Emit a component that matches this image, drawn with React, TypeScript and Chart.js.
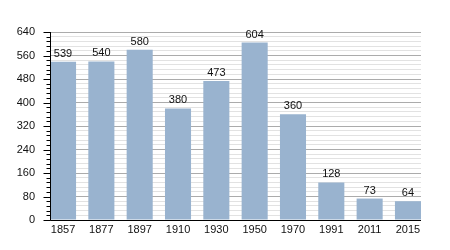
import React, { useEffect, useRef } from "react";
import { Chart, registerables } from "chart.js";

Chart.register(...registerables);

const YEARS = ["1857", "1877", "1897", "1910", "1930", "1950", "1970", "1991", "2011", "2015"];
const POPULATION = [539, 540, 580, 380, 473, 604, 360, 128, 73, 64];
const Y_MIN = 0;
const Y_MAX = 640;
const Y_MAJOR_STEP = 80;
const Y_MINOR_STEP = 16;

const FONT_FAMILY = "'Liberation Sans Narrow', 'Arial Narrow', 'Liberation Sans', Arial, sans-serif";
const BAR_COLOR = "#99b3cf";

const axisPlugin = {
  id: "axisLinesAndTicks",
  afterDatasetsDraw(chart: any) {
    const { ctx, chartArea, scales } = chart;
    const y = scales.y;
    const left = Math.floor(chartArea.left) + 0.5;
    const bottom = Math.round(chartArea.bottom) + 0.5;
    ctx.save();
    ctx.strokeStyle = "#000";
    ctx.lineWidth = 1;
    ctx.beginPath();
    ctx.moveTo(left, chartArea.top);
    ctx.lineTo(left, bottom);
    ctx.moveTo(left, bottom);
    ctx.lineTo(chartArea.right, bottom);
    for (let v = Y_MIN; v <= Y_MAX; v += Y_MINOR_STEP) {
      const py = Math.round(y.getPixelForValue(v)) + 0.5;
      const len = v % Y_MAJOR_STEP === 0 ? 7 : 4;
      ctx.moveTo(left - len, py);
      ctx.lineTo(left, py);
    }
    ctx.stroke();
    ctx.restore();
  },
};

const valueLabelPlugin = {
  id: "valueLabels",
  afterDatasetsDraw(chart: any) {
    const { ctx } = chart;
    const meta = chart.getDatasetMeta(0);
    ctx.save();
    ctx.font = `11px ${FONT_FAMILY}`;
    ctx.fillStyle = "#111";
    ctx.textAlign = "center";
    ctx.textBaseline = "alphabetic";
    meta.data.forEach((el: any, i: number) => {
      ctx.fillText(String(POPULATION[i]), el.x, el.y - 5);
    });
    ctx.restore();
  },
};

export default function App() {
  const canvasRef = useRef<HTMLCanvasElement | null>(null);

  useEffect(() => {
    if (!canvasRef.current) return;
    const chart = new Chart(canvasRef.current, {
      type: "bar",
      data: {
        datasets: [
          {
            data: POPULATION.map((v, i) => ({ x: i, y: v })),
            backgroundColor: BAR_COLOR,
            borderWidth: 0,
            categoryPercentage: 1,
            barPercentage: 0.68,
          },
        ],
      },
      options: {
        responsive: false,
        animation: false,
        events: [],
        layout: { padding: { top: 32, right: 29, bottom: 0, left: 0 } },
        plugins: {
          legend: { display: false },
          tooltip: { enabled: false },
          title: { display: false },
        },
        scales: {
          x: {
            type: "linear",
            offset: false,
            min: -0.34,
            max: YEARS.length - 1 + 0.34,
            grid: { display: false, drawTicks: false },
            border: { display: false },
            afterBuildTicks: (scale: any) => {
              scale.ticks = YEARS.map((_, i) => ({ value: i }));
            },
            afterFit: (scale: any) => {
              scale.height = 30;
            },
            ticks: {
              autoSkip: false,
              maxRotation: 0,
              minRotation: 0,
              padding: 3,
              color: "#111",
              font: { family: FONT_FAMILY, size: 11 },
              callback: (value: any) => YEARS[Math.round(Number(value))] ?? "",
            },
          },
          y: {
            type: "linear",
            min: Y_MIN,
            max: Y_MAX,
            grid: {
              drawTicks: false,
              color: (c: any) =>
                c.tick && c.tick.value % Y_MAJOR_STEP === 0 ? "#ababab" : "#e2e2e2",
            },
            border: { display: false },
            afterBuildTicks: (scale: any) => {
              const t: { value: number }[] = [];
              for (let v = Y_MIN; v <= Y_MAX; v += Y_MINOR_STEP) t.push({ value: v });
              scale.ticks = t;
            },
            afterFit: (scale: any) => {
              scale.width = 50;
            },
            ticks: {
              autoSkip: false,
              padding: 15,
              color: "#111",
              font: { family: FONT_FAMILY, size: 11 },
              callback: (value: any) => (Number(value) % Y_MAJOR_STEP === 0 ? String(value) : ""),
            },
          },
        },
      },
      plugins: [axisPlugin, valueLabelPlugin],
    } as any);
    return () => chart.destroy();
  }, []);

  return (
    <div style={{ position: "fixed", left: 0, top: 0, width: 450, height: 250, background: "#fff" }}>
      <canvas ref={canvasRef} width={450} height={250} style={{ display: "block" }} />
    </div>
  );
}
